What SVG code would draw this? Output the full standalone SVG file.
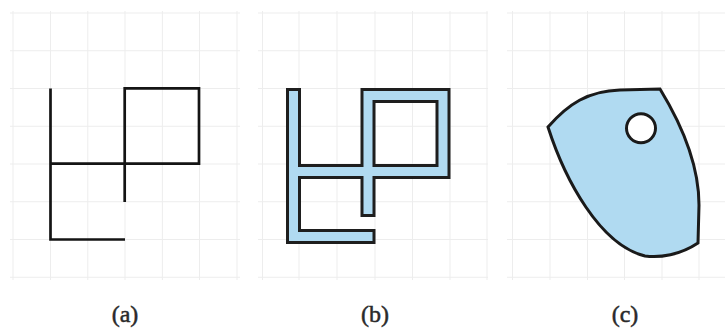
<svg xmlns="http://www.w3.org/2000/svg" width="725" height="331" viewBox="0 0 725 331">
<style>
.grid line{stroke:#ededed;stroke-width:1}
.thin{fill:none;stroke:#141414;stroke-width:2.7;stroke-linecap:butt;stroke-linejoin:miter}
.outer{fill:none;stroke:#1e1e1e;stroke-width:15;stroke-linecap:square;stroke-linejoin:miter}
.inner{fill:none;stroke:#b0daf1;stroke-width:9;stroke-linecap:square;stroke-linejoin:miter}
.blob{fill:#b0daf1;stroke:#1a1a1a;stroke-width:3;stroke-linejoin:miter}
.hole{fill:#ffffff;stroke:#1a1a1a;stroke-width:3}
.lbl{font-family:"Liberation Serif",serif;font-size:24px;fill:#2a2a2a;stroke:#2a2a2a;stroke-width:0.5;text-anchor:middle}
</style>
<rect width="725" height="331" fill="#ffffff"/>
<g id="grid-a" class="grid">
<line x1="10" y1="13" x2="240" y2="13"/><line x1="10" y1="50.75" x2="240" y2="50.75"/><line x1="10" y1="88.5" x2="240" y2="88.5"/><line x1="10" y1="126.25" x2="240" y2="126.25"/><line x1="10" y1="164" x2="240" y2="164"/><line x1="10" y1="201.75" x2="240" y2="201.75"/><line x1="10" y1="239.5" x2="240" y2="239.5"/><line x1="10" y1="277.25" x2="240" y2="277.25"/>
<line x1="13" y1="11" x2="13" y2="280"/><line x1="50.5" y1="11" x2="50.5" y2="280"/><line x1="87.8" y1="11" x2="87.8" y2="280"/><line x1="125" y1="11" x2="125" y2="280"/><line x1="162.4" y1="11" x2="162.4" y2="280"/><line x1="199.5" y1="11" x2="199.5" y2="280"/><line x1="237" y1="11" x2="237" y2="280"/>
</g>
<g id="grid-b" class="grid">
<line x1="258" y1="13" x2="488" y2="13"/><line x1="258" y1="50.75" x2="488" y2="50.75"/><line x1="258" y1="88.5" x2="488" y2="88.5"/><line x1="258" y1="126.25" x2="488" y2="126.25"/><line x1="258" y1="164" x2="488" y2="164"/><line x1="258" y1="201.75" x2="488" y2="201.75"/><line x1="258" y1="239.5" x2="488" y2="239.5"/><line x1="258" y1="277.25" x2="488" y2="277.25"/>
<line x1="262.5" y1="11" x2="262.5" y2="280"/><line x1="299" y1="11" x2="299" y2="280"/><line x1="337" y1="11" x2="337" y2="280"/><line x1="375" y1="11" x2="375" y2="280"/><line x1="412.5" y1="11" x2="412.5" y2="280"/><line x1="450" y1="11" x2="450" y2="280"/><line x1="487" y1="11" x2="487" y2="280"/>
</g>
<g id="grid-c" class="grid">
<line x1="507" y1="13" x2="725" y2="13"/><line x1="507" y1="50.75" x2="725" y2="50.75"/><line x1="507" y1="88.5" x2="725" y2="88.5"/><line x1="507" y1="126.25" x2="725" y2="126.25"/><line x1="507" y1="164" x2="725" y2="164"/><line x1="507" y1="201.75" x2="725" y2="201.75"/><line x1="507" y1="239.5" x2="725" y2="239.5"/><line x1="507" y1="277.25" x2="725" y2="277.25"/>
<line x1="512.5" y1="11" x2="512.5" y2="280"/><line x1="550" y1="11" x2="550" y2="280"/><line x1="587.5" y1="11" x2="587.5" y2="280"/><line x1="624.5" y1="11" x2="624.5" y2="280"/><line x1="662" y1="11" x2="662" y2="280"/><line x1="699" y1="11" x2="699" y2="280"/>
</g>
<g id="shape-a">
<path class="thin" d="M50.5,88.5 V239.5 H125"/>
<path class="thin" d="M50.5,163.7 H199 V88.3 H124.7 V202"/>
</g>
<g id="shape-b">
<path class="outer" d="M368,236.5 H293.5 V95.5 M293.5,171.5 H443 V95.5 H368 V209.5"/>
<path class="inner" d="M368,236.5 H293.5 V95.5 M293.5,171.5 H443 V95.5 H368 V209.5"/>
</g>
<g id="shape-c">
<path class="blob" d="M548,127 C568,104 588,91 620,90 L660,89 C682,125 699,165 699,205 L698,243 C680,255 660,258 645,256 C600,245 565,180 548,127 Z"/>
<circle class="hole" cx="641" cy="128.3" r="14.5"/>
</g>
<g id="labels">
<text class="lbl" x="125" y="322">(a)</text>
<text class="lbl" x="375" y="322">(b)</text>
<text class="lbl" x="625" y="322">(c)</text>
</g>
</svg>
